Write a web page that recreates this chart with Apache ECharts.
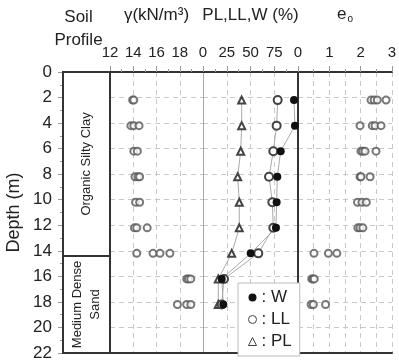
<!DOCTYPE html>
<html>
<head>
<meta charset="utf-8">
<script src="https://cdn.jsdelivr.net/npm/echarts@6/dist/echarts.min.js"></script>
<style>
  html, body { margin: 0; padding: 0; background: #fff; }
  #chart { width: 399px; height: 361px; }
</style>
</head>
<body>
<div id="chart"></div>
<script>
// soil layers (depth in m)
var layerNames = ['Organic Silty Clay', 'Medium Dense\nSand'];
var layerTops = [0, 14.4];
var layerBottoms = [14.4, 22];

// sample depths (m)
var depths = [2.2, 4.2, 6.2, 8.2, 10.2, 12.2, 14.2, 16.2, 18.2];

// unit weight, several tests per depth (kN/m3)
var gammaValues = [
    [13.95, 14.05],
    [13.8, 14.05, 14.5],
    [14.05, 14.35],
    [14.15, 14.4, 14.55],
    [14.2, 14.55],
    [14.1, 14.3, 15.2],
    [14.3, 15.7, 16.3, 17.15],
    [18.6, 18.75, 18.95],
    [17.8, 18.6, 18.95]
];

// water content, liquid limit, plastic limit (%)
var wValues = [95.8, 96.8, 81.8, 78.2, 77.5, 76.8, 50.2, 19.7, 21.4];
var llValues = [78.6, 77.5, 74, 69.5, 73, 74, 58.2, 22.1, 19.7];
var plValues = [40.7, 40.7, 39.7, 36.5, 38.2, 38.2, 30.2, 16.1, 16.1];

// initial void ratio
var eoValues = [
    [2.33, 2.43, 2.53, 2.81],
    [1.98, 2.37, 2.46, 2.65],
    [2.01, 2.07, 2.14, 2.49],
    [1.98, 2.01, 2.3],
    [1.9, 2.04, 2.18],
    [1.91, 1.98, 2.07],
    [0.51, 0.97, 1.24],
    [0.44, 0.48, 0.52],
    [0.42, 0.49, 0.88]
];

var FONT = 'Liberation Sans, Arial, sans-serif';
var TXT = '#222';
var DARK = '#333';

function flatten(groups) {
    var out = [];
    for (var i = 0; i < groups.length; i++) {
        for (var j = 0; j < groups[i].length; j++) {
            out.push([groups[i][j], depths[i]]);
        }
    }
    return out;
}
function pairs(vals) {
    return vals.map(function (v, i) { return [v, depths[i]]; });
}

var gridTop = 72, gridBottom = 8;
var grids = [
    {left: 63, width: 47},
    {left: 110, width: 93},
    {left: 203, width: 95},
    {left: 298, width: 94}
].map(function (g) {
    return {left: g.left, width: g.width, top: gridTop, bottom: gridBottom,
        containLabel: false, outerBoundsMode: 'none'};
});
grids[0].show = true;
grids[0].borderColor = DARK;
grids[0].borderWidth = 2;

var dashed = {show: true, lineStyle: {color: '#c8c8c8', type: [5, 4], width: 1}};

function topAxis(idx, min, max, interval, name, extra) {
    var ax = {
        gridIndex: idx, type: 'value', position: 'top', min: min, max: max, interval: interval,
        name: name, nameLocation: 'middle', nameGap: 48,
        nameTextStyle: {fontFamily: FONT, fontSize: 17, color: TXT},
        axisLine: {show: true, onZero: false, lineStyle: {color: DARK, width: 2}},
        axisTick: {show: true, inside: false, length: 6, lineStyle: {color: '#999'}},
        minorTick: {show: true, splitNumber: 2, length: 3, lineStyle: {color: '#999'}},
        axisLabel: {fontFamily: FONT, fontSize: 15, color: TXT, margin: 12},
        splitLine: dashed
    };
    for (var k in extra) ax[k] = extra[k];
    return ax;
}
function bottomAxis(idx) {
    return {
        gridIndex: idx, type: 'value', position: 'bottom', min: 0, max: 1,
        axisLine: {show: true, onZero: false, lineStyle: {color: DARK, width: 2}},
        axisTick: {show: false}, axisLabel: {show: false}, splitLine: {show: false}
    };
}
function depthAxis(idx, extra) {
    var ax = {
        gridIndex: idx, type: 'value', inverse: true, min: 0, max: 22, interval: 2,
        axisLine: {show: false}, axisTick: {show: false}, axisLabel: {show: false},
        splitLine: dashed
    };
    for (var k in extra) ax[k] = extra[k];
    return ax;
}

var option = {
    animation: false,
    backgroundColor: '#fff',
    textStyle: {fontFamily: FONT},
    grid: grids,
    xAxis: [
        {
            gridIndex: 0, type: 'value', position: 'top', min: 0, max: 1,
            name: 'Soil\nProfile', nameLocation: 'middle', nameGap: 20,
            nameTextStyle: {fontFamily: FONT, fontSize: 17, color: TXT, lineHeight: 23, padding: [0, 16, 0, 0]},
            axisLine: {show: false}, axisTick: {show: false}, axisLabel: {show: false}, splitLine: {show: false}
        },
        topAxis(1, 12, 20, 2, '\u03b3(kN/m\u00b3)', {axisLabel: {fontFamily: FONT, fontSize: 15, color: TXT, margin: 12, showMaxLabel: false}}),
        topAxis(2, 0, 100, 25, 'PL,LL,W (%)', {axisLabel: {fontFamily: FONT, fontSize: 15, color: TXT, margin: 12, showMaxLabel: false}}),
        topAxis(3, 0, 3, 1, '{a|e}{b|o}', {
            nameTextStyle: {
                fontFamily: FONT, color: TXT,
                rich: {a: {fontSize: 17, fontFamily: FONT, color: TXT}, b: {fontSize: 10, fontFamily: FONT, color: TXT, padding: [10, 0, 0, 1]}}
            },
            minorSplitLine: dashed
        }),
        bottomAxis(1), bottomAxis(2), bottomAxis(3)
    ],
    yAxis: [
        depthAxis(0, {
            name: 'Depth (m)', nameLocation: 'middle', nameGap: 40, nameRotate: 90,
            nameTextStyle: {fontFamily: FONT, fontSize: 18, color: TXT},
            axisLine: {show: true, lineStyle: {color: DARK, width: 2}},
            axisTick: {show: true, inside: false, length: 5, lineStyle: {color: '#999'}},
            minorTick: {show: true, splitNumber: 2, length: 3, lineStyle: {color: '#999'}},
            axisLabel: {show: true, fontFamily: FONT, fontSize: 17, color: TXT, margin: 11},
            splitLine: {show: false}
        }),
        depthAxis(1),
        depthAxis(2, {axisLine: {show: true, lineStyle: {color: '#aaa', width: 1}}}),
        depthAxis(3, {axisLine: {show: true, lineStyle: {color: '#aaa', width: 1}}}),
        depthAxis(3, {position: 'right', splitLine: {show: false}, axisLine: {show: true, lineStyle: {color: DARK, width: 2}}})
    ],
    legend: {
        orient: 'vertical', left: 238, top: 283, width: 60,
        padding: [6, 8, 6, 10], itemGap: 5, itemWidth: 8, itemHeight: 8,
        backgroundColor: '#fff', borderColor: '#bbb', borderWidth: 1,
        formatter: ': {name}',
        textStyle: {fontFamily: FONT, fontSize: 17, color: TXT},
        data: [
            {name: 'W', icon: 'circle', itemStyle: {color: '#111', borderWidth: 0}},
            {name: 'LL', icon: 'circle', itemStyle: {color: '#fff', borderColor: '#444', borderWidth: 1}},
            {name: 'PL', icon: 'triangle', itemStyle: {color: '#fff', borderColor: '#444', borderWidth: 1}}
        ]
    },
    series: [
        {
            type: 'custom', xAxisIndex: 0, yAxisIndex: 0,
            data: layerTops.map(function (t, i) { return [t, layerBottoms[i]]; }),
            encode: {y: [0, 1]},
            renderItem: function (params, api) {
                var p0 = api.coord([0, api.value(0)]);
                var p1 = api.coord([1, api.value(1)]);
                return {
                    type: 'group',
                    children: [
                        {type: 'rect', shape: {x: p0[0], y: p0[1], width: p1[0] - p0[0], height: p1[1] - p0[1]},
                            style: {fill: 'none', stroke: DARK, lineWidth: 2}},
                        {type: 'text', x: (p0[0] + p1[0]) / 2, y: (p0[1] + p1[1]) / 2, rotation: Math.PI / 2,
                            style: {text: layerNames[params.dataIndex], align: 'center', verticalAlign: 'middle',
                                fontFamily: FONT, fontSize: 13, lineHeight: 18, fill: TXT}}
                    ]
                };
            }
        },
        {
            name: 'gamma', type: 'scatter', xAxisIndex: 1, yAxisIndex: 1,
            symbol: 'emptyCircle', symbolSize: 7,
            itemStyle: {color: '#555', borderWidth: 1},
            data: flatten(gammaValues)
        },
        {
            name: 'PL', type: 'line', xAxisIndex: 2, yAxisIndex: 2,
            symbol: 'emptyTriangle', symbolSize: 7,
            lineStyle: {color: '#aaa', width: 1},
            itemStyle: {color: '#444', borderWidth: 1},
            data: pairs(plValues)
        },
        {
            name: 'LL', type: 'line', xAxisIndex: 2, yAxisIndex: 2,
            symbol: 'emptyCircle', symbolSize: 8,
            lineStyle: {color: '#aaa', width: 1},
            itemStyle: {color: '#444', borderWidth: 1},
            data: pairs(llValues)
        },
        {
            name: 'W', type: 'line', xAxisIndex: 2, yAxisIndex: 2,
            symbol: 'circle', symbolSize: 8,
            lineStyle: {color: '#aaa', width: 1},
            itemStyle: {color: '#111'},
            data: pairs(wValues)
        },
        {
            name: 'eo', type: 'scatter', xAxisIndex: 3, yAxisIndex: 3,
            symbol: 'emptyCircle', symbolSize: 7,
            itemStyle: {color: '#555', borderWidth: 1},
            data: flatten(eoValues)
        }
    ]
};

var chart = echarts.init(document.getElementById('chart'));
chart.setOption(option);
</script>
</body>
</html>
